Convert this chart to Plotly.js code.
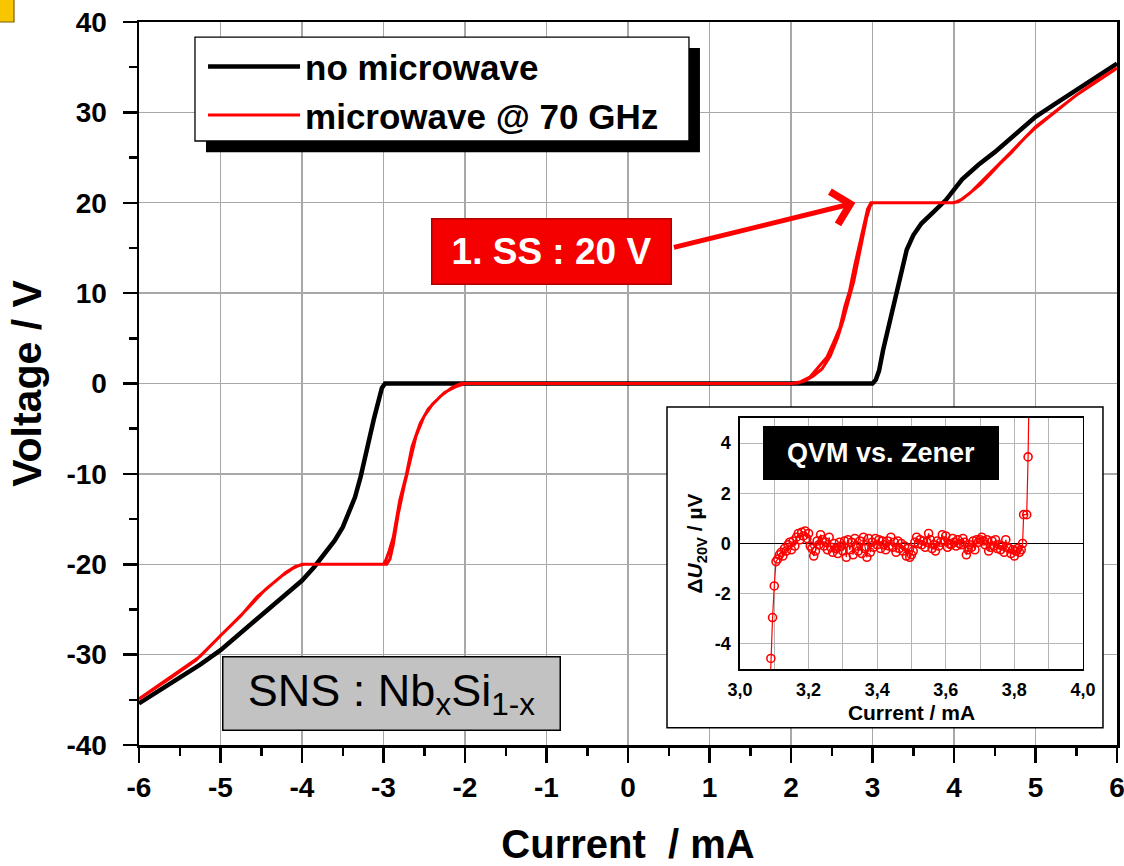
<!DOCTYPE html>
<html>
<head>
<meta charset="utf-8">
<script src="https://cdn.plot.ly/plotly-3.0.1.min.js"></script>
<style>html,body{margin:0;padding:0;background:#fff;}#chart{width:1124px;height:866px;}</style>
</head>
<body>
<div id="chart"></div>
<script>
// ---- Main chart: I-V curves (Current / mA, Voltage / V) ----
const blackI = [-6.0,-5.75,-5.5,-5.25,-5.0,-4.75,-4.5,-4.25,-4.0,-3.85,-3.7,-3.6,-3.5,-3.42,-3.35,-3.28,-3.2,-3.12,-3.06,-3.02,-2.98,
                2.98,3.0,3.04,3.08,3.13,3.2,3.27,3.34,3.42,3.5,3.6,3.74,3.9,4.1,4.3,4.5,4.75,5.0,5.25,5.5,5.75,6.0];
const blackV = [-35.4,-34.0,-32.6,-31.1,-29.5,-27.6,-25.6,-23.8,-21.8,-20.3,-18.6,-17.4,-15.9,-14.3,-12.6,-10.3,-7.0,-4.0,-1.9,-0.5,0,
                0,0,0.4,1.4,3.7,6.4,9.3,12.2,14.8,16.4,17.7,18.9,20.3,22.6,24.2,25.6,27.6,29.5,31.0,32.5,34.0,35.4];

// microwave @ 70 GHz, forward sweep
const redUpI = [-6.0,-5.7,-5.5,-5.25,-5.0,-4.75,-4.55,-4.35,-4.2,-4.08,-3.98,-3.0,-2.97,-2.93,-2.88,-2.8,-2.72,-2.65,-2.55,-2.45,-2.3,-2.15,-2.05,
                2.02,2.12,2.23,2.33,2.44,2.52,2.6,2.66,2.72,2.78,2.84,2.89,2.94,2.98,4.0,4.1,4.2,4.32,4.45,4.56,4.7,4.85,5.0,5.25,5.5,5.75,6.0];
const redUpV = [-34.9,-33.0,-31.8,-30.2,-27.9,-25.7,-23.6,-22.0,-20.9,-20.25,-20.0,-20.0,-19.5,-18.5,-17.0,-12.9,-10.1,-7.0,-4.4,-2.8,-1.4,-0.4,0,
                0,0.2,0.7,1.7,2.9,4.5,6.2,8.5,10.3,13.0,15.5,17.5,19.3,20.0,20.0,20.4,21.1,22.0,23.2,24.3,25.5,27.0,28.3,30.1,31.9,33.5,34.9];
// microwave @ 70 GHz, backward sweep
const redDownI = [6.0,5.5,5.0,4.7,4.45,4.2,4.05,3.98,3.0,2.97,2.93,2.88,2.83,2.77,2.7,2.64,2.57,2.48,2.38,2.27,2.17,2.08,2.0,
                  -2.0,-2.1,-2.25,-2.4,-2.5,-2.6,-2.68,-2.75,-2.82,-2.88,-2.92,-2.96,-4.0,-4.1,-4.25,-4.45,-4.7,-5.0,-5.3,-5.6,-6.0];
const redDownV = [34.9,31.9,28.4,25.6,23.3,21.1,20.1,20.0,20.0,19.6,18.4,16.3,14.0,11.3,9.0,7.0,5.0,3.0,1.6,0.8,0.3,0.05,0,
                  0,-0.3,-1.0,-2.3,-3.6,-5.8,-8.8,-11.5,-14.5,-17.8,-19.4,-20.0,-20.0,-20.4,-21.3,-22.8,-25.2,-27.9,-30.6,-32.5,-34.9];

const xTickVals = [-6,-5,-4,-3,-2,-1,0,1,2,3,4,5,6];
const xTickText = ['-6','-5','-4','-3','-2','-1','0','1','2','3','4','5','6'];
const yTickVals = [-40,-30,-20,-10,0,10,20,30,40];
const yTickText = ['-40','-30','-20','-10','0','10','20','30','40'];

// ---- Inset: QVM vs. Zener (Current / mA, ΔU20V / µV) ----
const insetI = [3.087,3.090,3.095,3.100,3.105,3.110,3.115,3.120,3.125,3.130,
  3.135,3.140,3.145,3.150,3.155,3.160,3.165,3.170,3.175,3.180,
  3.185,3.190,3.195,3.200,3.205,3.210,3.215,3.220,3.225,3.230,
  3.235,3.240,3.245,3.250,3.255,3.260,3.265,3.270,3.275,3.280,
  3.285,3.290,3.295,3.300,3.305,3.310,3.315,3.320,3.325,3.330,
  3.335,3.340,3.345,3.350,3.355,3.360,3.365,3.370,3.375,3.380,
  3.385,3.390,3.395,3.400,3.405,3.410,3.415,3.420,3.425,3.430,
  3.435,3.440,3.445,3.450,3.455,3.460,3.465,3.470,3.475,3.480,
  3.485,3.490,3.495,3.500,3.505,3.510,3.515,3.520,3.525,3.530,
  3.535,3.540,3.545,3.550,3.555,3.560,3.565,3.570,3.575,3.580,
  3.585,3.590,3.595,3.600,3.605,3.610,3.615,3.620,3.625,3.630,
  3.635,3.640,3.645,3.650,3.655,3.660,3.665,3.670,3.675,3.680,
  3.685,3.690,3.695,3.700,3.705,3.710,3.715,3.720,3.725,3.730,
  3.735,3.740,3.745,3.750,3.755,3.760,3.765,3.770,3.775,3.780,
  3.785,3.790,3.795,3.800,3.805,3.810,3.815,3.820,3.824,3.827,
  3.836,3.840,3.846];
const insetDU = [-6.0,-4.58,-2.95,-1.69,-0.72,-0.62,-0.45,-0.35,-0.50,-0.20,
  -0.30,-0.05,0.05,-0.25,0.10,-0.10,0.25,0.40,0.15,0.45,
  0.30,0.50,0.20,0.40,-0.10,-0.20,-0.50,-0.30,0.10,-0.05,
  0.35,0.15,-0.10,0.05,-0.25,0.25,-0.15,-0.35,0.00,-0.20,
  -0.40,0.05,-0.10,-0.30,0.10,-0.55,0.15,-0.25,0.05,-0.45,
  0.20,-0.10,-0.30,0.10,-0.40,0.25,-0.20,-0.55,0.20,-0.35,
  0.05,-0.15,0.20,-0.05,0.15,-0.20,0.10,-0.05,-0.25,0.10,
  -0.10,0.25,-0.15,0.05,-0.35,0.10,-0.20,0.00,-0.30,-0.10,
  -0.50,-0.20,-0.55,-0.45,-0.30,0.05,0.25,0.00,0.15,-0.05,
  0.10,-0.15,0.05,0.40,0.15,-0.20,-0.05,-0.30,0.10,-0.10,
  0.05,0.35,0.10,0.30,-0.15,0.00,-0.05,0.20,0.05,-0.10,
  0.15,0.00,-0.05,0.20,0.05,-0.45,-0.25,-0.05,-0.15,0.10,
  -0.25,0.15,0.05,0.15,0.25,0.10,-0.05,0.15,-0.30,-0.15,
  0.10,-0.10,0.15,-0.20,-0.05,-0.25,-0.10,-0.35,0.15,-0.15,
  -0.20,-0.40,-0.25,-0.50,-0.30,-0.20,-0.35,-0.25,0.00,1.15,
  1.15,3.45,9.0];
const insetXTickVals = [3.0,3.2,3.4,3.6,3.8,4.0];
const insetXTickText = ['3,0','3,2','3,4','3,6','3,8','4,0'];
const insetYTickVals = [-4,-2,0,2,4];
const insetYTickText = ['-4','-2','0','2','4'];

const FONT = 'Liberation Sans, Arial, Helvetica, sans-serif';

const traces = [
  {x: blackI, y: blackV, type: 'scatter', mode: 'lines', name: 'no microwave',
   line: {color: '#000000', width: 4.5}, xaxis: 'x', yaxis: 'y'},
  {x: redUpI.concat(redDownI), y: redUpV.concat(redDownV), type: 'scatter', mode: 'lines',
   name: 'microwave @ 70 GHz', line: {color: '#ff0000', width: 3}, xaxis: 'x', yaxis: 'y'},
  {x: insetI, y: insetDU, type: 'scatter', mode: 'lines+markers', showlegend: false,
   line: {color: '#ff0000', width: 1.2},
   marker: {symbol: 'circle-open', size: 8, color: '#ff0000', line: {width: 1.6, color: '#ff0000'}},
   xaxis: 'x2', yaxis: 'y2'}
];

const layout = {
  width: 1124, height: 866,
  margin: {l: 139, r: 7, t: 22, b: 121},
  paper_bgcolor: '#ffffff', plot_bgcolor: '#ffffff',
  font: {family: FONT, color: '#000000'},
  showlegend: true,
  legend: {x: 0.0573, y: 0.979, xanchor: 'left', yanchor: 'top',
           bgcolor: 'rgba(0,0,0,0)', borderwidth: 0,
           font: {family: FONT, size: 35, weight: 'bold', color: '#000'},
           itemwidth: 92, indentation: 8, tracegroupgap: 0},
  xaxis: {
    range: [-6, 6], tickvals: xTickVals, ticktext: xTickText,
    tickfont: {family: FONT, size: 28, weight: 'bold'},
    ticks: 'outside', ticklen: 15, tickwidth: 2.5, tickcolor: '#000',
    showline: true, linecolor: '#000', linewidth: 2.5, mirror: true,
    showgrid: true, gridcolor: '#a8a8a8', gridwidth: 1.3, zeroline: false,
    minor: {dtick: 0.5, ticks: 'outside', ticklen: 8, tickwidth: 2.5, tickcolor: '#000', showgrid: false},
    ticklabelstandoff: 1, ticklabeloverflow: 'allow',
    title: {text: 'Current  / mA', font: {family: FONT, size: 40, weight: 'bold'}, standoff: 28},
    domain: [0, 1]
  },
  yaxis: {
    range: [-40, 40], tickvals: yTickVals, ticktext: yTickText,
    tickfont: {family: FONT, size: 28, weight: 'bold'},
    ticks: 'outside', ticklen: 14, tickwidth: 2.5, tickcolor: '#000',
    showline: true, linecolor: '#000', linewidth: 2.5, mirror: true,
    showgrid: true, gridcolor: '#a8a8a8', gridwidth: 1.3, zeroline: false,
    minor: {dtick: 5, ticks: 'outside', ticklen: 8, tickwidth: 2.5, tickcolor: '#000', showgrid: false},
    ticklabelstandoff: 10, ticklabeloverflow: 'allow',
    title: {text: 'Voltage / V', font: {family: FONT, size: 41, weight: 'bold'}, standoff: 12},
    domain: [0, 1]
  },
  xaxis2: {
    anchor: 'y2', domain: [0.6145, 0.9652], range: [3.0, 4.0],
    tickvals: insetXTickVals, ticktext: insetXTickText,
    tickfont: {family: FONT, size: 18, weight: 'bold'},
    ticks: '', showline: true, linecolor: '#000', linewidth: 1.5, mirror: true,
    showgrid: true, gridcolor: '#b5b5b5', gridwidth: 1, zeroline: false,
    minor: {dtick: 0.1, tick0: 3.0, showgrid: true, gridcolor: '#b5b5b5', gridwidth: 1, ticks: ''},
    ticklabelstandoff: 4,
    title: {text: 'Current / mA', font: {family: FONT, size: 21, weight: 'bold'}, standoff: 6}
  },
  yaxis2: {
    anchor: 'x2', domain: [0.1051, 0.4523], range: [-5, 5],
    tickvals: insetYTickVals, ticktext: insetYTickText,
    tickfont: {family: FONT, size: 18, weight: 'bold'},
    ticks: '', showline: true, linecolor: '#000', linewidth: 1.5, mirror: true,
    showgrid: true, gridcolor: '#b5b5b5', gridwidth: 1,
    zeroline: true, zerolinecolor: '#000', zerolinewidth: 1.2,
    ticklabelstandoff: 4,
    title: {text: 'Δ<i>U</i><sub>20V</sub> / µV', font: {family: FONT, size: 21, weight: 'bold'}, standoff: 6}
  },
  shapes: [
    // legend drop shadow
    {type: 'rect', xref: 'x', yref: 'y', layer: 'between', x0: -5.178, x1: 0.883, y0: 25.6, y1: 37.11,
     fillcolor: '#000000', line: {width: 0}},
    // legend panel
    {type: 'rect', xref: 'x', yref: 'y', layer: 'between', x0: -5.313, x1: 0.748, y0: 26.83, y1: 38.33,
     fillcolor: '#ffffff', line: {color: '#000000', width: 1.3}},
    // inset panel background
    {type: 'rect', xref: 'x', yref: 'y', layer: 'between', x0: 0.4785, x1: 5.828, y0: -38.1, y1: -2.6,
     fillcolor: '#ffffff', line: {color: '#000000', width: 1.5}},
    // small yellow marker at the top-left corner
    {type: 'rect', xref: 'paper', yref: 'paper', x0: -0.1432, x1: -0.1278, y0: 1.0, y1: 1.035,
     fillcolor: '#f7c600', line: {color: '#7a6000', width: 1.2}}
  ],
  annotations: [
    {xref: 'x', yref: 'y', x: 2.79, y: 20, ax: -183, ay: 45, text: '', showarrow: true,
     arrowhead: 4, arrowsize: 1.3, arrowwidth: 5, arrowcolor: '#ff0000', standoff: 0},
    {xref: 'x', yref: 'y', x: -0.933, y: 14.66, xanchor: 'center', yanchor: 'middle',
     text: '<b>1. SS : 20 V</b>', showarrow: false,
     width: 234, height: 60, bgcolor: '#f50000', bordercolor: '#b00000', borderwidth: 1.5, borderpad: 2,
     font: {family: FONT, size: 37, color: '#ffffff'}},
    {xref: 'x', yref: 'y', x: -2.896, y: -34.35, xanchor: 'center', yanchor: 'middle',
     text: 'SNS : Nb<sub>x</sub>Si<sub>1-x</sub>', showarrow: false,
     width: 334, height: 70, bgcolor: '#c2c2c2', bordercolor: '#000000', borderwidth: 1.5, borderpad: 1,
     font: {family: FONT, size: 45, color: '#000000'}},
    {xref: 'paper', yref: 'paper', x: 0.7587, y: 0.4039, xanchor: 'center', yanchor: 'middle',
     text: '<b>QVM vs. Zener</b>', showarrow: false,
     width: 232, height: 50, bgcolor: '#000000', bordercolor: '#000000', borderwidth: 1, borderpad: 1,
     font: {family: FONT, size: 27, color: '#ffffff'}}
  ]
};

Plotly.newPlot('chart', traces, layout, {staticPlot: true, displayModeBar: false});
</script>
</body>
</html>
